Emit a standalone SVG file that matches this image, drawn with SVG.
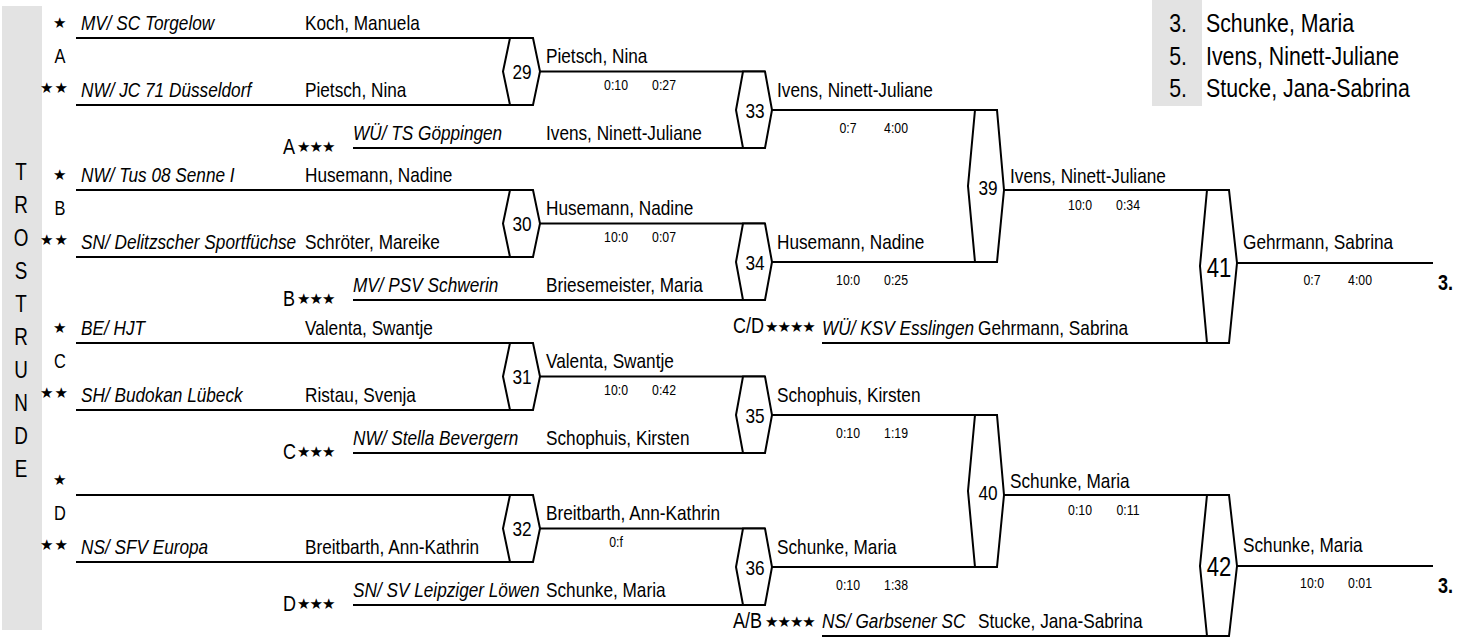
<svg xmlns="http://www.w3.org/2000/svg" width="1478" height="641" viewBox="0 0 1478 641">
<style>
text{font-family:"Liberation Sans",Arial,sans-serif;font-size:21px;fill:#000}
.i{font-style:italic}
.s{font-size:15px;text-anchor:middle}
.n{font-size:21px;text-anchor:middle}
.nb{font-size:27px;text-anchor:middle}
.g{font-size:20px;text-anchor:middle}
.l{font-size:22px}
.v{font-size:23px;text-anchor:middle}
.lg{font-size:26px}
.lgn{font-size:26px;text-anchor:end}
.p{font-size:22px;font-weight:bold}
.st{font-family:"DejaVu Sans",sans-serif;font-size:15px;letter-spacing:-1px}
.st2{font-family:"DejaVu Sans",sans-serif;font-size:15px;letter-spacing:1px}
.ln{stroke:#000;stroke-width:2;fill:none}
.hx{stroke:#000;stroke-width:2;fill:#fff}
</style>
<rect x="2" y="6" width="40" height="624" fill="#e3e3e3"/>
<g id="trostrunde">
<text class="v" transform="translate(21 180) scale(.82 1)">T</text>
<text class="v" transform="translate(21 213) scale(.82 1)">R</text>
<text class="v" transform="translate(21 246) scale(.82 1)">O</text>
<text class="v" transform="translate(21 279) scale(.82 1)">S</text>
<text class="v" transform="translate(21 312) scale(.82 1)">T</text>
<text class="v" transform="translate(21 345) scale(.82 1)">R</text>
<text class="v" transform="translate(21 378) scale(.82 1)">U</text>
<text class="v" transform="translate(21 411) scale(.82 1)">N</text>
<text class="v" transform="translate(21 444) scale(.82 1)">D</text>
<text class="v" transform="translate(21 477) scale(.82 1)">E</text>
</g>
<rect x="1152" y="0" width="50" height="106" fill="#e3e3e3"/>
<g id="legend">
<text class="lgn" transform="translate(1187 32) scale(.82 1)">3.</text><text class="lg" transform="translate(1206 32) scale(.82 1)">Schunke, Maria</text>
<text class="lgn" transform="translate(1187 65) scale(.82 1)">5.</text><text class="lg" transform="translate(1206 65) scale(.82 1)">Ivens, Ninett-Juliane</text>
<text class="lgn" transform="translate(1187 97) scale(.82 1)">5.</text><text class="lg" transform="translate(1206 97) scale(.82 1)">Stucke, Jana-Sabrina</text>
</g>
<g id="connectors">
<path class="ln" d="M76 38H533M76 105H533M353 148H765M540 71.5H765M772 110H997"/>
<path class="ln" d="M76 190H533M76 257H533M353 300H765M540 223.5H765M772 262H997"/>
<path class="ln" d="M76 343H533M76 410H533M353 453H765M540 376.5H765M772 415H997"/>
<path class="ln" d="M76 495H533M76 562H533M353 605H765M540 528.5H765M772 567H997"/>
<path class="ln" d="M1004 190H1229M1004 495H1229M822 343H1229M822 636H1229M1237 263H1433M1237 566H1433"/>
</g>
<g id="groupA">
<text class="st" x="53" y="28">★</text>
<text class="i" transform="translate(81 30) scale(.82 1)">MV/ SC Torgelow</text><text transform="translate(305 30) scale(.82 1)">Koch, Manuela</text>
<text class="g" transform="translate(60 63) scale(.82 1)">A</text>
<text class="st2" x="40" y="93">★★</text>
<text class="i" transform="translate(81 97) scale(.82 1)">NW/ JC 71 Düsseldorf</text><text transform="translate(305 97) scale(.82 1)">Pietsch, Nina</text>
<text class="l" transform="translate(283 154) scale(.82 1)">A</text><text class="st" x="297" y="152">★★★</text>
<text class="i" transform="translate(353 140) scale(.82 1)">WÜ/ TS Göppingen</text><text transform="translate(546 140) scale(.82 1)">Ivens, Ninett-Juliane</text>
</g>
<g id="groupB">
<text class="st" x="53" y="180">★</text>
<text class="i" transform="translate(81 182) scale(.82 1)">NW/ Tus 08 Senne I</text><text transform="translate(305 182) scale(.82 1)">Husemann, Nadine</text>
<text class="g" transform="translate(60 215) scale(.82 1)">B</text>
<text class="st2" x="40" y="245">★★</text>
<text class="i" transform="translate(81 249) scale(.82 1)">SN/ Delitzscher Sportfüchse</text><text transform="translate(305 249) scale(.82 1)">Schröter, Mareike</text>
<text class="l" transform="translate(283 306) scale(.82 1)">B</text><text class="st" x="297" y="304">★★★</text>
<text class="i" transform="translate(353 292) scale(.82 1)">MV/ PSV Schwerin</text><text transform="translate(546 292) scale(.82 1)">Briesemeister, Maria</text>
</g>
<g id="groupC">
<text class="st" x="53" y="333">★</text>
<text class="i" transform="translate(81 335) scale(.82 1)">BE/ HJT</text><text transform="translate(305 335) scale(.82 1)">Valenta, Swantje</text>
<text class="g" transform="translate(60 368) scale(.82 1)">C</text>
<text class="st2" x="40" y="398">★★</text>
<text class="i" transform="translate(81 402) scale(.82 1)">SH/ Budokan Lübeck</text><text transform="translate(305 402) scale(.82 1)">Ristau, Svenja</text>
<text class="l" transform="translate(283 459) scale(.82 1)">C</text><text class="st" x="297" y="457">★★★</text>
<text class="i" transform="translate(353 445) scale(.82 1)">NW/ Stella Bevergern</text><text transform="translate(546 445) scale(.82 1)">Schophuis, Kirsten</text>
</g>
<g id="groupD">
<text class="st" x="53" y="485">★</text>
<text class="g" transform="translate(60 520) scale(.82 1)">D</text>
<text class="st2" x="40" y="550">★★</text>
<text class="i" transform="translate(81 554) scale(.82 1)">NS/ SFV Europa</text><text transform="translate(305 554) scale(.82 1)">Breitbarth, Ann-Kathrin</text>
<text class="l" transform="translate(283 611) scale(.82 1)">D</text><text class="st" x="297" y="609">★★★</text>
<text class="i" transform="translate(353 597) scale(.82 1)">SN/ SV Leipziger Löwen</text><text transform="translate(546 597) scale(.82 1)">Schunke, Maria</text>
</g>
<g id="match29"><polygon class="hx" points="510,38 533,38 540,71.5 533,105 510,105 503,71.5"/><text class="n" transform="translate(522 79) scale(.82 1)">29</text>
<text transform="translate(546 63) scale(.82 1)">Pietsch, Nina</text><text class="s" transform="translate(616 90) scale(.82 1)">0:10</text><text class="s" transform="translate(664 90) scale(.82 1)">0:27</text></g>
<g id="match30"><polygon class="hx" points="510,190 533,190 540,223.5 533,257 510,257 503,223.5"/><text class="n" transform="translate(522 231) scale(.82 1)">30</text>
<text transform="translate(546 215) scale(.82 1)">Husemann, Nadine</text><text class="s" transform="translate(616 242) scale(.82 1)">10:0</text><text class="s" transform="translate(664 242) scale(.82 1)">0:07</text></g>
<g id="match31"><polygon class="hx" points="510,343 533,343 540,376.5 533,410 510,410 503,376.5"/><text class="n" transform="translate(522 384) scale(.82 1)">31</text>
<text transform="translate(546 368) scale(.82 1)">Valenta, Swantje</text><text class="s" transform="translate(616 395) scale(.82 1)">10:0</text><text class="s" transform="translate(664 395) scale(.82 1)">0:42</text></g>
<g id="match32"><polygon class="hx" points="510,495 533,495 540,528.5 533,562 510,562 503,528.5"/><text class="n" transform="translate(522 536) scale(.82 1)">32</text>
<text transform="translate(546 520) scale(.82 1)">Breitbarth, Ann-Kathrin</text><text class="s" transform="translate(616 547) scale(.82 1)">0:f</text></g>
<g id="match33"><polygon class="hx" points="743,71.5 765,71.5 772,110 765,148 743,148 736,110"/><text class="n" transform="translate(755 118) scale(.82 1)">33</text>
<text transform="translate(777 97) scale(.82 1)">Ivens, Ninett-Juliane</text><text class="s" transform="translate(848 133) scale(.82 1)">0:7</text><text class="s" transform="translate(896 133) scale(.82 1)">4:00</text></g>
<g id="match34"><polygon class="hx" points="743,223.5 765,223.5 772,262 765,300 743,300 736,262"/><text class="n" transform="translate(755 270) scale(.82 1)">34</text>
<text transform="translate(777 249) scale(.82 1)">Husemann, Nadine</text><text class="s" transform="translate(848 285) scale(.82 1)">10:0</text><text class="s" transform="translate(896 285) scale(.82 1)">0:25</text></g>
<g id="match35"><polygon class="hx" points="743,376.5 765,376.5 772,415 765,453 743,453 736,415"/><text class="n" transform="translate(755 423) scale(.82 1)">35</text>
<text transform="translate(777 402) scale(.82 1)">Schophuis, Kirsten</text><text class="s" transform="translate(848 438) scale(.82 1)">0:10</text><text class="s" transform="translate(896 438) scale(.82 1)">1:19</text></g>
<g id="match36"><polygon class="hx" points="743,528.5 765,528.5 772,567 765,605 743,605 736,567"/><text class="n" transform="translate(755 575) scale(.82 1)">36</text>
<text transform="translate(777 554) scale(.82 1)">Schunke, Maria</text><text class="s" transform="translate(848 590) scale(.82 1)">0:10</text><text class="s" transform="translate(896 590) scale(.82 1)">1:38</text></g>
<g id="match39"><polygon class="hx" points="975,110 997,110 1004,190 997,262 975,262 968,186"/><text class="n" transform="translate(988 195) scale(.82 1)">39</text>
<text transform="translate(1010 183) scale(.82 1)">Ivens, Ninett-Juliane</text><text class="s" transform="translate(1080 210) scale(.82 1)">10:0</text><text class="s" transform="translate(1128 210) scale(.82 1)">0:34</text></g>
<g id="match40"><polygon class="hx" points="975,415 997,415 1004,495 997,567 975,567 968,491"/><text class="n" transform="translate(988 500) scale(.82 1)">40</text>
<text transform="translate(1010 488) scale(.82 1)">Schunke, Maria</text><text class="s" transform="translate(1080 515) scale(.82 1)">0:10</text><text class="s" transform="translate(1128 515) scale(.82 1)">0:11</text></g>
<g id="rowCD"><text class="l" transform="translate(733 333) scale(.82 1)">C/D</text><text class="st" x="765" y="332">★★★★</text>
<text class="i" transform="translate(822 335) scale(.82 1)">WÜ/ KSV Esslingen</text><text transform="translate(978 335) scale(.82 1)">Gehrmann, Sabrina</text></g>
<g id="rowAB"><text class="l" transform="translate(733 628) scale(.82 1)">A/B</text><text class="st" x="765" y="627">★★★★</text>
<text class="i" transform="translate(822 628) scale(.82 1)">NS/ Garbsener SC</text><text transform="translate(978 628) scale(.82 1)">Stucke, Jana-Sabrina</text></g>
<g id="match41"><polygon class="hx" points="1207,190 1229,190 1237,263 1229,343 1207,343 1200,266"/><text class="nb" transform="translate(1219 277) scale(.82 1)">41</text>
<text transform="translate(1243 249) scale(.82 1)">Gehrmann, Sabrina</text><text class="s" transform="translate(1312 285) scale(.82 1)">0:7</text><text class="s" transform="translate(1360 285) scale(.82 1)">4:00</text><text class="p" transform="translate(1438 290) scale(.82 1)">3.</text></g>
<g id="match42"><polygon class="hx" points="1207,495 1229,495 1237,566 1229,636 1207,636 1200,566"/><text class="nb" transform="translate(1219 576) scale(.82 1)">42</text>
<text transform="translate(1243 552) scale(.82 1)">Schunke, Maria</text><text class="s" transform="translate(1312 588) scale(.82 1)">10:0</text><text class="s" transform="translate(1360 588) scale(.82 1)">0:01</text><text class="p" transform="translate(1438 593) scale(.82 1)">3.</text></g>
</svg>
